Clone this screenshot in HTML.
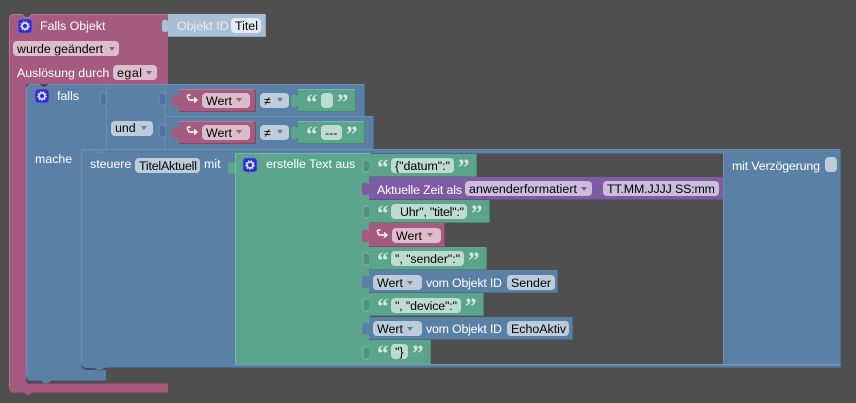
<!DOCTYPE html>
<html lang="de"><head><meta charset="utf-8"><title>Blockly</title>
<style>
html,body{margin:0;padding:0;background:#4f4f4f}
svg{display:block}
text{font-family:"Liberation Sans",sans-serif;font-size:12.4px;fill:#fff;white-space:pre}
.k{fill:#000}
.q{font-family:"Liberation Serif",serif;font-weight:bold;font-size:23px;fill:#d3e6df;transform:translateY(2px)}
.p{fill:#a55b80}.b{fill:#5b80a5}.g{fill:#5ba58c}.u{fill:#805ba5}
.fp{fill:#dbbdcc}.fb{fill:#bdccdb}.fg{fill:#bddbd1}.fu{fill:#ccbddb}.fl{fill:#e4eaf1}
.lb{stroke:#6f8fb0;fill:none}.db{stroke:#4a6b8e;fill:none}
.lg{stroke:#7bb8a3;fill:none}.dg{stroke:#4a8873;fill:none}
.lp{stroke:#b9789a;fill:none}.dp{stroke:#874866;fill:none}
.ap{fill:#a55b80}.ab{fill:#5b80a5}.au{fill:#805ba5}
.o{fill:#558f7c;stroke:#7bb8a3}
.oo{fill:#4f74a0;stroke:#6f8fb0}
</style></head><body>
<svg width="856" height="403" viewBox="0 0 856 403" xmlns="http://www.w3.org/2000/svg">
<defs>
<g id="gear"><rect x="0" y="0" width="14" height="14" rx="3" fill="#2f2fcf" stroke="#6f6fe0" stroke-width=".7"/><circle cx="7" cy="7" r="3" fill="none" stroke="#dfe0ff" stroke-width="1.8"/><circle cx="7" cy="7" r="4.3" fill="none" stroke="#dfe0ff" stroke-width="1" stroke-dasharray="1.5 1.5"/></g>
<path id="arr" d="M4.500 2 H3 Q1 2 1.500 4 L3 7 H10.500 M8 4.500 L11 7 L8 9.500" fill="none" stroke="#fff" stroke-width="1.400"/>
</defs>
<rect width="856" height="403" fill="#4f4f4f"/>

<!-- pink outer -->
<path class="p" d="M9 20 Q9 14 15 14 H22 L25 17 H29 L32 14 H168 V84 H26 V380 Q26 384 30 384 H168 V393 H33 L28 396 L23 393 H15 Q9 393 9 387 Z"/>
<path class="lp" d="M9.500 387 V20 Q9.500 14.500 15 14.500 H22 L25 17.500 H29 L32 14.500 H168"/>
<path class="dp" d="M168 392.500 H33 L28 395.500 L23 392.500 H15"/>
<path class="dp" d="M30 383.500 H168"/>

<!-- Objekt ID -->
<path d="M168 14 H266 V37 H168 V31 l-2,1 q-4,1 -4,-3 v-6 q0,-4 4,-3 l2,1 Z" fill="#a9bfd4"/>
<path d="M168 36.500 H266 M265.500 14 V37" stroke="#8ea6bd" fill="none"/>
<text x="177" y="30" style="fill:#e6edf4">Objekt ID</text>
<rect x="231" y="18" width="30" height="15" rx="4" class="fl"/>
<text x="235" y="30" class="k">Titel</text>

<rect x="13" y="41" width="106" height="15" rx="4" class="fp"/>
<text x="17" y="53" class="k">wurde geändert</text>
<path d="M109 47 H115 L112 51 Z" class="ap"/>
<text x="17" y="77">Auslösung durch</text>
<rect x="113" y="65" width="44" height="15" rx="4" class="fp"/>
<text x="117" y="77" class="k" textLength="25">egal</text>
<path d="M146 71 H152 L149 75 Z" class="ap"/>

<!-- blue falls -->
<path class="b" d="M26 90 Q26 84 32 84 H39 L42 87 H46 L49 84 H365 V116 H374 V149 H841 V368 H106 V381 H51 L46 384 L41 381 H32 Q26 381 26 375 Z"/>
<path class="lb" d="M26.500 375 V90 Q26.500 84.500 32 84.500 H39 L42 87.500 H46 L49 84.500 H365"/>
<path class="lb" d="M165 116.500 H373.500 M81 149.500 H841"/>
<path class="db" d="M364.500 84 V116 M373.500 116 V149 M840.500 149 V368 M106 380.500 H51 M32 380.500 H41"/>
<path class="lb" d="M106.500 85 V149 M165 85 V149"/>
<path d="M106 104 l-2,1 q-4,1 -4,-3 v-6 q0,-4 4,-3 l2,1" class="oo"/>
<path d="M165 104 l-2,1 q-4,1 -4,-3 v-6 q0,-4 4,-3 l2,1" class="oo"/>
<path d="M165 136 l-2,1 q-4,1 -4,-3 v-6 q0,-4 4,-3 l2,1" class="oo"/>
<use href="#gear" x="35" y="89"/>
<text x="57" y="100">falls</text>
<rect x="111" y="121" width="42" height="15" rx="4" class="fb"/>
<text x="115" y="132" class="k">und</text>
<path d="M141 126 H147 L144 130 Z" class="ab"/>
<text x="35" y="163">mache</text>

<!-- row 1 -->
<path class="p" d="M179 89 H256 V112 H179 V106 l-3,1 q-4,1 -4,-3 v-6 q0,-4 4,-3 l3,1 Z"/>
<path class="dp" d="M179 111.500 H256 M255.500 89 V112"/><path class="lp" d="M179 89.500 H255"/>
<use href="#arr" x="186" y="93"/>
<rect x="202" y="93" width="48" height="15" rx="4" class="fp"/>
<text x="206" y="105" class="k">Wert</text>
<path d="M236 98 H242 L239 102 Z" class="ap"/>
<rect x="260" y="93" width="29" height="15" rx="4" class="fb"/>
<text x="264" y="105" class="k">≠</text>
<path d="M277 98 H283 L280 102 Z" class="ab"/>
<path class="g" d="M298 89 H356 V112 H298 V106 l-3,1 q-4,1 -4,-3 v-6 q0,-4 4,-3 l3,1 Z"/>
<path class="dg" d="M298 111.500 H356 M355.500 89 V112"/><path class="lg" d="M298 89.500 H355"/>
<text x="306" y="108" class="q">“</text>
<rect x="321" y="93" width="12" height="15" rx="4" class="fg"/>
<text x="337" y="108" class="q">”</text>

<!-- row 2 -->
<path class="p" d="M179 121 H256 V144 H179 V138 l-3,1 q-4,1 -4,-3 v-6 q0,-4 4,-3 l3,1 Z"/>
<path class="dp" d="M179 143.500 H256 M255.500 121 V144"/><path class="lp" d="M179 121.500 H255"/>
<use href="#arr" x="186" y="125"/>
<rect x="202" y="125" width="48" height="15" rx="4" class="fp"/>
<text x="206" y="137" class="k">Wert</text>
<path d="M236 130 H242 L239 134 Z" class="ap"/>
<rect x="260" y="125" width="29" height="15" rx="4" class="fb"/>
<text x="264" y="137" class="k">≠</text>
<path d="M277 130 H283 L280 134 Z" class="ab"/>
<path class="g" d="M298 121 H365 V144 H298 V138 l-3,1 q-4,1 -4,-3 v-6 q0,-4 4,-3 l3,1 Z"/>
<path class="dg" d="M298 143.500 H365 M364.500 121 V144"/><path class="lg" d="M298 121.500 H364"/>
<text x="306" y="140" class="q">“</text>
<rect x="321" y="125" width="21" height="15" rx="4" class="fg"/>
<text x="325" y="137" class="k">---</text>
<text x="346" y="140" class="q">”</text>

<!-- steuere inner outline -->
<path class="lb" d="M81.500 362 V155 Q81.500 149.500 87 149.500 H94 L97 152.500 H101 L104 149.500"/>
<path d="M81 362 Q81 368 87 368 H94 L100 371 L104 368 H106 V370 H87 Q82 370 81 365 Z" fill="#42505f"/>
<path d="M106 367.500 H841" stroke="#4a6b8e"/>
<text x="90" y="168">steuere</text>
<rect x="135" y="158" width="65" height="15" rx="4" class="fb"/>
<text x="139" y="170" class="k" textLength="58">TitelAktuell</text>
<text x="204" y="168">mit</text>

<!-- green statement -->
<path class="g" d="M235 153 H369 V364 H235 V173 l-3,1 q-4,1 -4,-3 v-6 q0,-4 4,-3 l3,1 Z"/>
<path class="lg" d="M235.500 364 V153.500 H369 M369.500 153 V364"/>
<path d="M234 364.500 H841" stroke="#7d9ab8"/>
<use href="#gear" x="243" y="158"/>
<text x="266" y="168">erstelle Text aus</text>

<!-- dark inner -->
<rect x="370" y="153" width="353" height="211" fill="#4f4f4f"/>
<path d="M370 153.500 H723" stroke="#4a6b8e"/>
<path d="M723.500 153 V364" stroke="#6f8fb0"/>
<text x="732" y="170" textLength="88">mit Verzögerung</text>
<rect x="825" y="157" width="12" height="15" rx="4" class="fb"/>

<!-- inputs -->
<path class="g" d="M369 154 H477 V177 H369 Z"/><path class="dg" d="M369 176.500 H477 M476.500 154 V177"/>
<path d="M369 171 l-2,1 q-4,1 -4,-3 v-6 q0,-4 4,-3 l2,1" class="o"/>
<text x="377" y="173" class="q">“</text>
<rect x="391" y="158" width="63" height="15" rx="4" class="fg"/>
<text x="395" y="170" class="k" textLength="55">{"datum":"</text>
<text x="458" y="173" class="q">”</text>

<path class="u" d="M369 177 H723 V200 H369 V194 l-3,1 q-4,1 -4,-3 v-6 q0,-4 4,-3 l3,1 Z"/>
<path stroke="#6b4b8c" fill="none" d="M369 199.500 H723"/>
<text x="377" y="194" textLength="85">Aktuelle Zeit als</text>
<rect x="465" y="181" width="127" height="15" rx="4" class="fu"/>
<text x="469" y="193" class="k" textLength="108">anwenderformatiert</text>
<path d="M581 187 H587 L584 191 Z" class="au"/>
<rect x="603" y="181" width="116" height="15" rx="4" class="fu"/>
<text x="607" y="193" class="k" textLength="108">TT.MM.JJJJ SS:mm</text>

<path class="g" d="M369 200 H490 V223 H369 Z"/><path class="dg" d="M369 222.500 H490 M489.500 200 V223"/>
<path d="M369 217 l-2,1 q-4,1 -4,-3 v-6 q0,-4 4,-3 l2,1" class="o"/>
<text x="377" y="219" class="q">“</text>
<rect x="391" y="204" width="76" height="15" rx="4" class="fg"/>
<text x="400" y="216" class="k" textLength="64">Uhr", "titel":"</text>
<text x="471" y="219" class="q">”</text>

<path class="p" d="M369 223 H445 V247 H369 V241 l-3,1 q-4,1 -4,-3 v-6 q0,-4 4,-3 l3,1 Z"/>
<path class="dp" d="M369 246.500 H445 M444.500 223 V247"/>
<use href="#arr" x="376" y="228"/>
<rect x="392" y="228" width="49" height="15" rx="4" class="fp"/>
<text x="396" y="240" class="k">Wert</text>
<path d="M427 233 H433 L430 237 Z" class="ap"/>

<path class="g" d="M369 247 H487 V270 H369 Z"/><path class="dg" d="M369 269.500 H487 M486.500 247 V270"/>
<path d="M369 264 l-2,1 q-4,1 -4,-3 v-6 q0,-4 4,-3 l2,1" class="o"/>
<text x="377" y="266" class="q">“</text>
<rect x="391" y="251" width="73" height="15" rx="4" class="fg"/>
<text x="395" y="263" class="k" textLength="65">", "sender":"</text>
<text x="468" y="266" class="q">”</text>

<path class="b" d="M369 270 H558 V293 H369 V287 l-3,1 q-4,1 -4,-3 v-6 q0,-4 4,-3 l3,1 Z"/>
<path class="db" d="M369 292.500 H558 M557.500 270 V293"/>
<rect x="373" y="275" width="49" height="15" rx="4" class="fb"/>
<text x="377" y="287" class="k">Wert</text>
<path d="M407 281 H413 L410 285 Z" class="ab"/>
<text x="426" y="287" textLength="76">vom Objekt ID</text>
<rect x="507" y="275" width="48" height="15" rx="4" class="fb"/>
<text x="511" y="287" class="k">Sender</text>

<path class="g" d="M369 293 H484 V316 H369 Z"/><path class="dg" d="M369 315.500 H484 M483.500 293 V316"/>
<path d="M369 310 l-2,1 q-4,1 -4,-3 v-6 q0,-4 4,-3 l2,1" class="o"/>
<text x="377" y="312" class="q">“</text>
<rect x="391" y="298" width="70" height="15" rx="4" class="fg"/>
<text x="395" y="310" class="k" textLength="62">", "device":"</text>
<text x="465" y="312" class="q">”</text>

<path class="b" d="M369 317 H573 V340 H369 V334 l-3,1 q-4,1 -4,-3 v-6 q0,-4 4,-3 l3,1 Z"/>
<path class="db" d="M369 339.500 H573 M572.500 317 V340"/>
<rect x="373" y="321" width="49" height="15" rx="4" class="fb"/>
<text x="377" y="333" class="k">Wert</text>
<path d="M407 327 H413 L410 331 Z" class="ab"/>
<text x="426" y="333" textLength="76">vom Objekt ID</text>
<rect x="507" y="321" width="62" height="15" rx="4" class="fb"/>
<text x="511" y="333" class="k">EchoAktiv</text>

<path class="g" d="M369 340 H431 V364 H369 Z"/><path class="dg" d="M430.500 340 V364"/>
<path d="M369 358 l-2,1 q-4,1 -4,-3 v-6 q0,-4 4,-3 l2,1" class="o"/>
<text x="377" y="359" class="q">“</text>
<rect x="391" y="344" width="17" height="15" rx="4" class="fg"/>
<text x="395" y="356" class="k">"}</text>
<text x="412" y="359" class="q">”</text>

<use href="#gear" x="18" y="19"/>
<text x="40" y="30">Falls Objekt</text>
</svg>
</body></html>
